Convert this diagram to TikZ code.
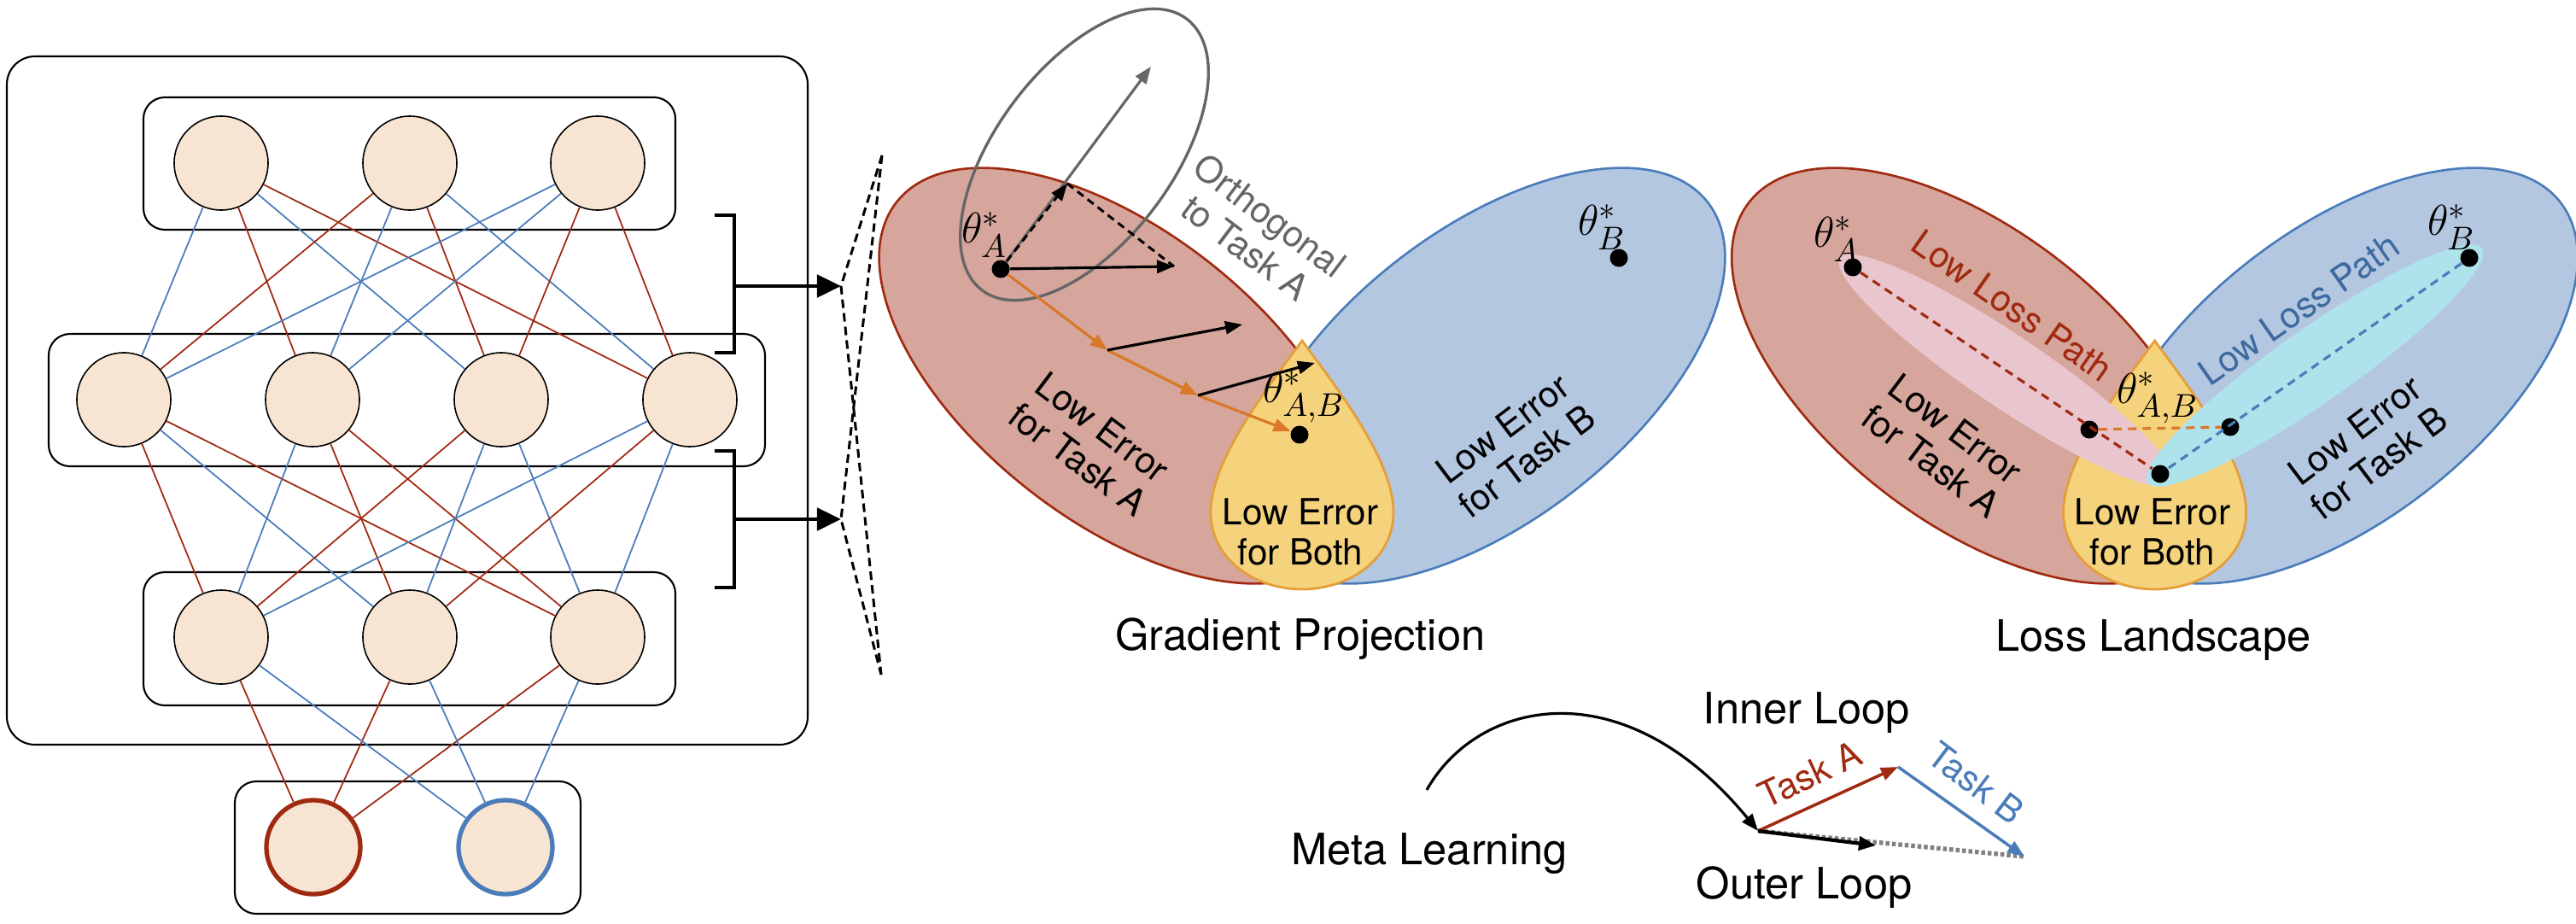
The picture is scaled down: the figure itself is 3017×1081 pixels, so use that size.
\documentclass[tikz,border=0pt]{standalone}
\usepackage{amsmath,amssymb}
\usepackage{fontspec}
\setmainfont{TeX Gyre Heros}
\usepackage{tikz}
\usetikzlibrary{arrows.meta,positioning}

\definecolor{nodefill}{RGB}{248,228,210}
\definecolor{netred}{RGB}{160,42,16}
\definecolor{netblue}{RGB}{74,124,186}
\definecolor{regred}{RGB}{214,166,156}
\definecolor{regblue}{RGB}{180,199,225}
\definecolor{regyellow}{RGB}{245,211,125}
\definecolor{rimyellow}{RGB}{228,158,58}
\definecolor{steporange}{RGB}{216,120,40}
\definecolor{pathpink}{RGB}{233,198,205}
\definecolor{pathcyan}{RGB}{174,227,236}
\definecolor{txtblue}{RGB}{62,106,160}
\definecolor{orthgray}{RGB}{102,102,102}

\begin{document}
\begin{tikzpicture}[x=0.01cm,y=-0.01cm]
\tikzset{neuron/.style = {shape=circle,draw,line width=0.45pt,fill=nodefill,minimum size=1.1cm,inner sep=0pt}}
\tikzset{layerbox/.style = {draw,line width=0.6pt,rounded corners=0.25cm}}
\tikzset{redge/.style = {netred,line width=0.5pt}}
\tikzset{bedge/.style = {netblue,line width=0.5pt}}
\tikzset{dot/.style = {shape=circle,fill,inner sep=0pt,minimum size=0.21cm}}
\tikzset{lbl/.style = {font=\fontsize{12}{13.5}\selectfont,align=center,inner sep=0pt}}
\tikzset{thlbl/.style = {font=\fontsize{15}{17}\selectfont,inner sep=0pt}}
\tikzset{title/.style = {font=\fontsize{14.4}{16}\selectfont,inner sep=0pt,anchor=base}}
\tikzset{vec/.style = {line width=0.9pt,-{Triangle[length=0.2cm,width=0.15cm]}}}
\tikzset{ovec/.style = {vec,steporange}}
\tikzset{proj/.style = {line width=0.85pt,dash pattern=on 0.09cm off 0.06cm}}
\tikzset{fan/.style = {line width=0.85pt,dash pattern=on 0.1cm off 0.06cm}}
\tikzset{llpath/.style = {line width=0.9pt,dash pattern=on 0.1cm off 0.07cm}}
\tikzset{redreg/.style = {fill=regred,draw=netred,line width=0.75pt}}
\tikzset{bluereg/.style = {fill=regblue,draw=netblue,line width=0.75pt}}
\tikzset{bothreg/.style = {fill=regyellow,draw=rimyellow,line width=0.8pt}}
\useasboundingbox (0,0) rectangle (3017,1081);

% network boxes
\draw[layerbox,rounded corners=0.33cm] (8,66) rectangle (946,872);
\draw[layerbox] (168,114) rectangle (791,269);
\draw[layerbox] (57,391) rectangle (896,546);
\draw[layerbox] (168,670) rectangle (791,826);
\draw[layerbox] (275,915) rectangle (680,1070);

% neurons
\node[neuron] (t1) at (259,191) {};
\node[neuron] (t2) at (480,191) {};
\node[neuron] (t3) at (700,191) {};
\node[neuron] (m1) at (145,468) {};
\node[neuron] (m2) at (366,468) {};
\node[neuron] (m3) at (587,468) {};
\node[neuron] (m4) at (808,468) {};
\node[neuron] (b1) at (259,746) {};
\node[neuron] (b2) at (480,746) {};
\node[neuron] (b3) at (700,746) {};
\node[neuron,draw=netred,line width=1.5pt] (o1) at (367,992) {};
\node[neuron,draw=netblue,line width=1.5pt] (o2) at (592,992) {};

% weights
\draw[bedge] (t1) -- (m1);
\draw[redge] (t1) -- (m2);
\draw[bedge] (t1) -- (m3);
\draw[redge] (t1) -- (m4);
\draw[redge] (t2) -- (m1);
\draw[bedge] (t2) -- (m2);
\draw[redge] (t2) -- (m3);
\draw[bedge] (t2) -- (m4);
\draw[bedge] (t3) -- (m1);
\draw[bedge] (t3) -- (m2);
\draw[redge] (t3) -- (m3);
\draw[redge] (t3) -- (m4);
\draw[redge] (m1) -- (b1);
\draw[bedge] (m1) -- (b2);
\draw[redge] (m1) -- (b3);
\draw[bedge] (m2) -- (b1);
\draw[redge] (m2) -- (b2);
\draw[redge] (m2) -- (b3);
\draw[redge] (m3) -- (b1);
\draw[bedge] (m3) -- (b2);
\draw[bedge] (m3) -- (b3);
\draw[bedge] (m4) -- (b1);
\draw[redge] (m4) -- (b2);
\draw[bedge] (m4) -- (b3);
\draw[redge] (b1) -- (o1);
\draw[redge] (b2) -- (o1);
\draw[redge] (b3) -- (o1);
\draw[bedge] (b1) -- (o2);
\draw[bedge] (b2) -- (o2);
\draw[bedge] (b3) -- (o2);

% brackets and fan
\coordinate (br1) at (860,335);
\coordinate (br2) at (860,608);
\coordinate (fan1) at (985,335);
\coordinate (fan2) at (985,608);
\coordinate (fantop) at (1033,182);
\coordinate (fanbot) at (1032,790);
\draw[line width=1.3pt] (837,252) -| (860,413) -- (837,413);
\draw[line width=1.3pt] (837,528) -| (860,688) -- (837,688);
\draw[line width=1.4pt,-{Triangle[length=0.28cm,width=0.26cm]}] (br1) -- (fan1);
\draw[line width=1.4pt,-{Triangle[length=0.28cm,width=0.26cm]}] (br2) -- (fan2);
\draw[fan] (fantop) -- (fan1) -- (fanbot);
\draw[fan] (fantop) -- (fan2) -- (fanbot);

% gradient projection regions
\filldraw[redreg,rotate around={-38:(1310,440)}] (1310,440) ellipse [x radius=330,y radius=170];
\filldraw[bluereg,rotate around={38:(1740,440)}] (1740,440) ellipse [x radius=330,y radius=170];
\filldraw[bothreg] (1525,399) .. controls (1480,460) and (1418,540) .. (1418,600)
  .. controls (1418,655) and (1470,690) .. (1525,690)
  .. controls (1580,690) and (1632,655) .. (1632,600)
  .. controls (1632,540) and (1570,460) .. (1525,399) -- cycle;
\draw[orthgray,line width=0.95pt,rotate around={53:(1270,181)}] (1270,181) ellipse [x radius=199,y radius=103];

% gradient projection points
\node[dot] (thA) at (1172,315) {};
\node[dot] (thAB) at (1522,509) {};
\node[dot] (thB) at (1896,302) {};
\node[thlbl] (thAlab) at (1153,275) {$\theta_A^*$};
\node[thlbl] (thBlab) at (1876,266) {$\theta_B^*$};
\node[thlbl] (thABlab) at (1527,465) {$\theta_{A,B}^*$};

% gradient projection steps
\coordinate (gtip) at (1348,78);
\coordinate (ptip) at (1250,215);
\coordinate (gA) at (1375,312);
\coordinate (s1) at (1297,410);
\coordinate (s2) at (1403,463);
\coordinate (g1) at (1455,380);
\coordinate (g2) at (1540,425);
\draw[vec,orthgray] (thA) -- (gtip);
\draw[proj,-{Triangle[length=0.2cm,width=0.15cm]}] (thA) -- (ptip);
\draw[proj] (ptip) -- (gA);
\draw[vec] (thA) -- (gA);
\draw[ovec] (thA) -- (s1);
\draw[ovec] (s1) -- (s2);
\draw[ovec] (s2) -- (thAB);
\draw[vec] (s1) -- (g1);
\draw[vec] (s2) -- (g2);

% gradient projection texts
\node[lbl,text=orthgray,rotate=-37] (orth) at (1473,271) {Orthogonal\\to Task A};
\node[lbl,rotate=-37] (erA) at (1277,519) {Low Error\\for Task A};
\node[lbl,rotate=37] (erB) at (1774,521) {Low Error\\for Task B};
\node[lbl] (erAB) at (1523,623) {Low Error\\for Both};
\node[title] (gp) at (1523,761) {Gradient Projection};

% loss landscape regions
\begin{scope}[xshift=9.98cm]
\filldraw[redreg,rotate around={-38:(1310,440)}] (1310,440) ellipse [x radius=330,y radius=170];
\filldraw[bluereg,rotate around={38:(1740,440)}] (1740,440) ellipse [x radius=330,y radius=170];
\filldraw[bothreg] (1525,399) .. controls (1480,460) and (1418,540) .. (1418,600)
  .. controls (1418,655) and (1470,690) .. (1525,690)
  .. controls (1580,690) and (1632,655) .. (1632,600)
  .. controls (1632,540) and (1570,460) .. (1525,399) -- cycle;
\end{scope}
\fill[pathpink,rotate around={-34:(2350,434)}] (2350,434) ellipse [x radius=235,y radius=42];
\fill[pathcyan,rotate around={35:(2711,428)}] (2711,428) ellipse [x radius=239,y radius=43];

% loss landscape points
\node[dot] (lA) at (2170,313) {};
\node[dot] (lAm) at (2447,503) {};
\node[dot] (lAB) at (2530,555) {};
\node[dot] (lBm) at (2612,500) {};
\node[dot] (lB) at (2892,302) {};
\draw[llpath,netred] (lA) -- (lAB);
\draw[llpath,netblue] (lB) -- (lAB);
\draw[llpath,steporange] (lAm) -- (lBm);
\node[thlbl] (lAlab) at (2151,280) {$\theta_A^*$};
\node[thlbl] (lBlab) at (2871,266) {$\theta_B^*$};
\node[thlbl] (lABlab) at (2527,466) {$\theta_{A,B}^*$};

% loss landscape texts
\node[lbl,text=netred,rotate=-35] (lpA) at (2357,358) {Low Loss Path};
\node[lbl,text=txtblue,rotate=35] (lpB) at (2692,362) {Low Loss Path};
\node[lbl,rotate=-37] (lerA) at (2276,521) {Low Error\\for Task A};
\node[lbl,rotate=37] (lerB) at (2772,523) {Low Error\\for Task B};
\node[lbl] (lerAB) at (2521,623) {Low Error\\for Both};
\node[title] (ll) at (2522,762) {Loss Landscape};

% meta learning
\coordinate (mstart) at (1671,925);
\coordinate (mbase) at (2059,973);
\coordinate (taskA) at (2223,898);
\coordinate (taskB) at (2371,1003);
\coordinate (outer) at (2197,990);
\draw[line width=0.9pt,-{Triangle[length=0.2cm,width=0.15cm]}] (mstart) .. controls (1730,820) and (1900,780) .. (mbase);
\draw[gray,line width=1.5pt,dash pattern=on 0.045cm off 0.03cm] (mbase) -- (taskB);
\draw[netred,line width=1pt,-{Triangle[length=0.2cm,width=0.15cm]}] (mbase) -- (taskA);
\draw[netblue,line width=1pt,-{Triangle[length=0.2cm,width=0.15cm]}] (taskA) -- (taskB);
\draw[line width=1.2pt,-{Triangle[length=0.2cm,width=0.16cm]}] (mbase) -- (outer);
\node[lbl,text=netred,rotate=25] (tA) at (2120,907) {Task A};
\node[lbl,text=netblue,rotate=-37] (tB) at (2314,917) {Task B};
\node[title] (inner) at (2116,847) {Inner Loop};
\node[title] (outerl) at (2113,1052) {Outer Loop};
\node[title] (meta) at (1674,1012) {Meta Learning};
\end{tikzpicture}
\end{document}
